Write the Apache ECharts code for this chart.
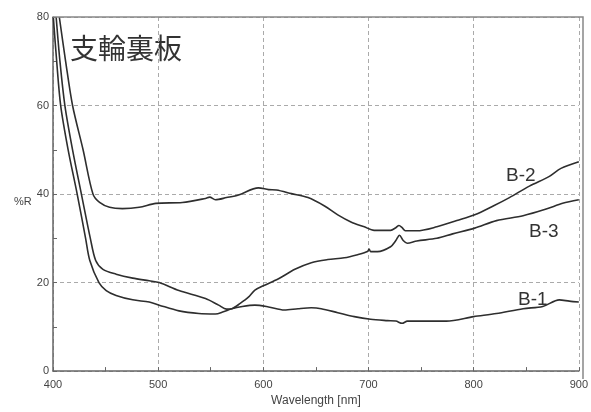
<!DOCTYPE html>
<html>
<head>
<meta charset="utf-8">
<script src="https://cdn.jsdelivr.net/npm/echarts@6/dist/echarts.min.js"></script>
<style>
  html, body { margin: 0; padding: 0; background: #fff; }
  #chart { width: 591px; height: 412px; }
</style>
</head>
<body>
<div id="chart"></div>
<script>
// 反射率データ（波長 nm, %R）
const b1Wl = [400.3, 403.5, 407.3, 414.4, 423, 431, 435, 443.7, 450.6, 460, 475.8, 491.5, 501, 519.8, 538.7, 554.4, 562, 570, 580, 592, 605, 620, 633, 645.6, 655, 670.8, 686.5, 702, 718, 726, 732, 737, 749, 774, 800, 821.7, 847, 865.7, 881.4, 891, 900]
const b1R = [80, 70, 60, 50, 40, 30, 25, 20, 18.2, 17.1, 16.1, 15.6, 14.9, 13.6, 13.0, 12.9, 13.4, 14.1, 14.6, 14.9, 14.5, 13.8, 14.1, 14.3, 14.1, 13.2, 12.3, 11.7, 11.4, 11.3, 10.8, 11.3, 11.3, 11.3, 12.3, 13.0, 14.1, 14.6, 16.1, 15.8, 15.6]

const b2Wl = [406, 412, 418.6, 428.6, 438, 444.3, 453.8, 466, 482, 497.8, 523, 545, 549, 554.4, 565, 576.4, 595.3, 605, 612.5, 626.7, 642.5, 658.2, 670.8, 683.3, 696, 705.4, 721, 726, 729, 732, 735, 746, 765, 784, 801, 818.6, 834, 853, 872, 883, 900]
const b2R = [80, 70, 60, 50, 40, 38.1, 37.0, 36.7, 37.0, 37.9, 38.1, 39.0, 39.3, 38.7, 39.2, 39.8, 41.4, 41.0, 40.9, 40.1, 39.2, 37.3, 35.3, 33.7, 32.6, 31.8, 31.8, 32.4, 32.9, 32.4, 31.7, 31.7, 32.6, 34.0, 35.3, 37.3, 39.2, 41.8, 44.0, 45.8, 47.3]

const b3Wl = [403, 406.6, 411.3, 418.6, 427, 435.5, 440.6, 447.5, 460, 475.8, 491.5, 501, 519.8, 545, 557.5, 565, 570, 578, 585.8, 592, 600, 614, 630, 645.6, 661.3, 677, 689.6, 699, 700.6, 702, 708.5, 721, 726, 729.5, 733, 736.8, 746, 765, 780, 801, 821.7, 847, 869, 884.6, 900]
const b3R = [80, 70, 60, 50, 40, 30, 25, 23, 21.9, 21.0, 20.4, 20.0, 18.2, 16.4, 14.9, 14.0, 14.1, 15.3, 16.7, 18.3, 19.3, 20.8, 23.0, 24.5, 25.2, 25.6, 26.3, 27.0, 27.6, 27.0, 27.0, 28.1, 29.5, 30.7, 29.5, 28.9, 29.4, 30.0, 31.0, 32.3, 34.0, 35.1, 36.6, 37.9, 38.7]

const seriesNames = ['B-1', 'B-2', 'B-3']

const toPairs = (xs, ys) => xs.map((x, i) => [x, ys[i]])

const chart = echarts.init(document.getElementById('chart'))

const lineStyle = { color: '#2e2e2e', width: 1.6 }
const gridLine = { show: true, lineStyle: { color: '#aaa', type: [4, 3], width: 1 } }
const axisLine = { show: true, onZero: false, lineStyle: { color: '#666', width: 1.5 } }

const option = {
  animation: false,
  grid: { left: 53, right: 8, top: 17, bottom: 33 },
  xAxis: {
    type: 'value',
    min: 400, max: 900, interval: 100,
    name: 'Wavelength [nm]',
    nameLocation: 'middle',
    nameGap: 20,
    nameTextStyle: { color: '#444', fontSize: 12, fontFamily: 'Arial, Liberation Sans' },
    axisLine: axisLine,
    axisTick: { show: true, inside: true, length: 4, lineStyle: { color: '#666' } },
    minorTick: { show: true, splitNumber: 2, length: 4, lineStyle: { color: '#666' } },
    axisLabel: { color: '#444', fontSize: 11, margin: 8, fontFamily: 'Arial, Liberation Sans' },
    splitLine: gridLine
  },
  yAxis: {
    type: 'value',
    min: 0, max: 80, interval: 20,
    axisLine: axisLine,
    axisTick: { show: true, inside: true, length: 4, lineStyle: { color: '#666' } },
    minorTick: { show: true, splitNumber: 2, length: 4, lineStyle: { color: '#666' } },
    axisLabel: { color: '#444', fontSize: 11, margin: 4, fontFamily: 'Arial, Liberation Sans' },
    splitLine: gridLine
  },
  graphic: [
    // 上と右の枠
    { type: 'polyline', z: 10, shape: { points: [[53, 17], [583, 17], [583, 379]] },
      style: { stroke: '#888', lineWidth: 1.5, fill: null } },
    { type: 'text', left: 70, top: 34,
      style: { text: '支輪裏板', fontSize: 28, fill: '#333', fontFamily: 'Noto Sans CJK JP' } },
    { type: 'text', left: 14, top: 196,
      style: { text: '%R', fontSize: 11, fill: '#444', fontFamily: 'Arial, Liberation Sans' } },
    { type: 'text', left: 506, top: 166,
      style: { text: 'B-2', fontSize: 19, fill: '#333', fontFamily: 'Arial, Liberation Sans' } },
    { type: 'text', left: 529, top: 222,
      style: { text: 'B-3', fontSize: 19, fill: '#333', fontFamily: 'Arial, Liberation Sans' } },
    { type: 'text', left: 518, top: 290,
      style: { text: 'B-1', fontSize: 19, fill: '#333', fontFamily: 'Arial, Liberation Sans' } }
  ],
  series: [
    { name: seriesNames[0], type: 'line', data: toPairs(b1Wl, b1R), showSymbol: false, smooth: 0.3, lineStyle: lineStyle },
    { name: seriesNames[1], type: 'line', data: toPairs(b2Wl, b2R), showSymbol: false, smooth: 0.3, lineStyle: lineStyle },
    { name: seriesNames[2], type: 'line', data: toPairs(b3Wl, b3R), showSymbol: false, smooth: 0.3, lineStyle: lineStyle }
  ]
}

chart.setOption(option)
</script>
</body>
</html>
